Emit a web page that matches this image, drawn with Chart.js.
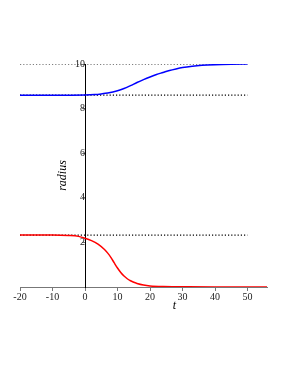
<!DOCTYPE html>
<html>
<head>
<meta charset="utf-8">
<script src="https://cdn.jsdelivr.net/npm/chart.js@4.4.1/dist/chart.umd.min.js"></script>
<style>
  body { margin: 0; background: #fff; }
  #wrap { width: 289px; height: 374px; }
</style>
</head>
<body>
<div id="wrap"><canvas id="radiusChart"></canvas></div>
<script>
// values
const blueT = [-20, -10, 0, 3, 5, 7, 10, 12, 14, 16, 18, 20, 22, 24, 26, 28, 30, 33, 36, 40, 45, 50];
const blueR = [8.60, 8.60, 8.61, 8.63, 8.66, 8.70, 8.80, 8.90, 9.03, 9.17, 9.30, 9.42, 9.53, 9.62, 9.71, 9.78, 9.84, 9.90, 9.94, 9.97, 9.99, 10.0];

const redT = [-20, -10, -5, -2, 0, 2, 4, 6, 7, 8, 9, 10, 11, 12, 13, 14, 15, 16, 18, 20, 24, 30, 40, 50, 56];
const redR = [2.33, 2.33, 2.31, 2.27, 2.19, 2.08, 1.92, 1.68, 1.52, 1.32, 1.08, 0.85, 0.65, 0.49, 0.37, 0.28, 0.21, 0.16, 0.09, 0.05, 0.02, 0.01, 0, 0, 0];

const levels = [10, 8.60, 2.33];
const levelT = [-20, 50];

const xTicks = [-20, -10, 0, 10, 20, 30, 40, 50];
const yTicks = [2, 4, 6, 8, 10];

const pts = (xs, ys) => xs.map((x, i) => ({ x: x, y: ys[i] }));

const dotted = levels.map(v => ({
  data: levelT.map(t => ({ x: t, y: v })),
  borderColor: '#000',
  borderWidth: 1.2,
  borderDash: [1.2, 2],
  pointRadius: 0,
  fill: false
}));

const serif = 'Liberation Serif';

const titles = {
  id: 'titles',
  afterDraw(chart) {
    const ctx = chart.ctx, x = chart.scales.x, y = chart.scales.y;
    ctx.save();
    ctx.fillStyle = '#000';
    ctx.font = 'italic 12px "' + serif + '"';
    ctx.textAlign = 'center';
    ctx.textBaseline = 'middle';
    ctx.fillText('t', x.getPixelForValue(27.5), 306);
    ctx.translate(63, y.getPixelForValue(5));
    ctx.rotate(-Math.PI / 2);
    ctx.fillText('radius', 0, 0);
    ctx.restore();
  }
};

new Chart(document.getElementById('radiusChart'), {
  type: 'line',
  data: {
    datasets: [{
      data: pts(blueT, blueR),
      borderColor: '#0000ff',
      borderWidth: 1.5,
      pointRadius: 0,
      cubicInterpolationMode: 'monotone',
      fill: false
    }, {
      data: pts(redT, redR),
      borderColor: '#ff0000',
      borderWidth: 1.5,
      pointRadius: 0,
      cubicInterpolationMode: 'monotone',
      fill: false
    }].concat(dotted)
  },
  options: {
    responsive: true,
    maintainAspectRatio: false,
    animation: false,
    layout: { padding: { left: 20, right: 22, top: 64, bottom: 87 } },
    plugins: { legend: { display: false }, tooltip: { enabled: false } },
    scales: {
      x: {
        type: 'linear',
        position: { y: 0 },
        min: -20,
        max: 56,
        afterBuildTicks: s => { s.ticks = xTicks.map(v => ({ value: v })); },
        ticks: { font: { family: serif, size: 10 }, color: '#222', padding: 1, maxRotation: 0 },
        grid: { drawOnChartArea: false, tickLength: 3, color: '#777' },
        border: { color: '#777', width: 1 }
      },
      y: {
        type: 'linear',
        position: { x: 0 },
        min: 0,
        max: 10,
        afterBuildTicks: s => { s.ticks = yTicks.map(v => ({ value: v })); },
        ticks: { font: { family: serif, size: 10 }, color: '#222', padding: 2 },
        grid: { drawOnChartArea: false, tickLength: 3, color: '#777' },
        border: { color: '#000', width: 1 }
      }
    }
  },
  plugins: [titles]
});
</script>
</body>
</html>
